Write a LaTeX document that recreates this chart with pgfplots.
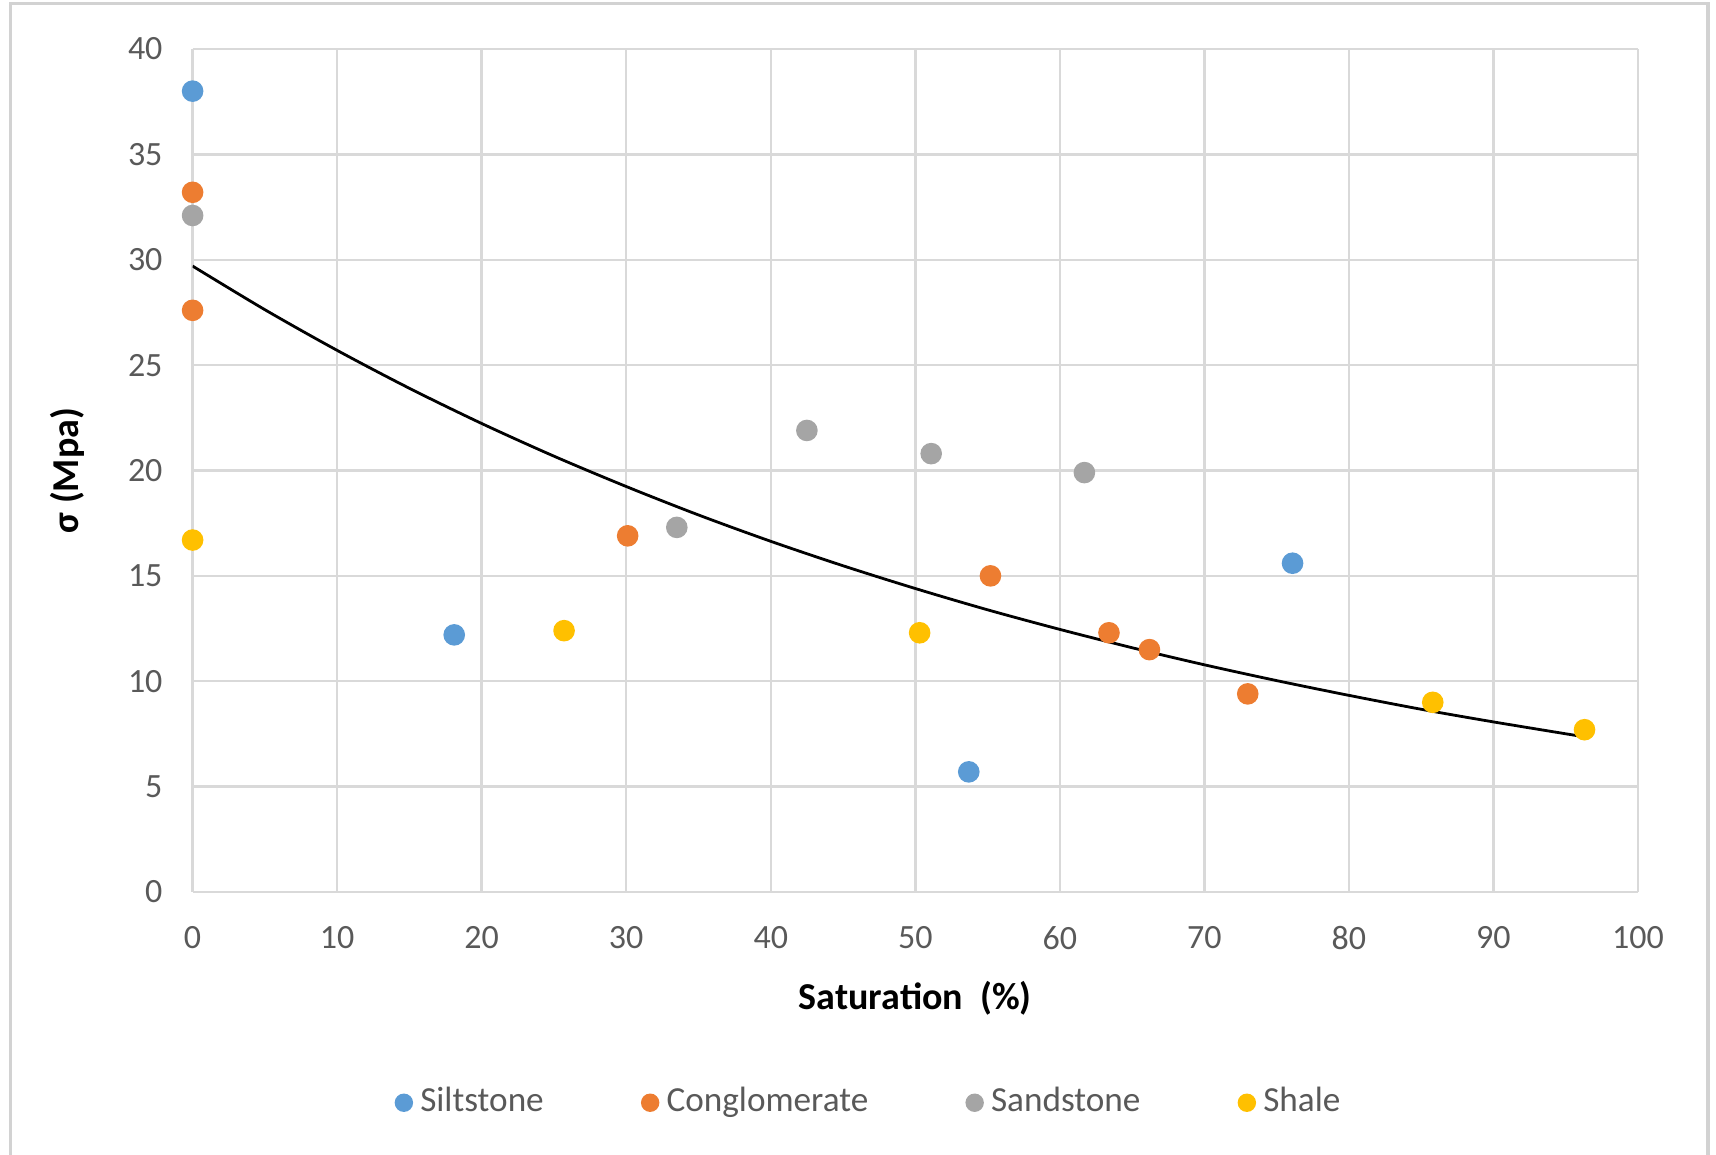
\documentclass[border=0pt]{standalone}
\usepackage{pgfplots}
\pgfplotsset{compat=1.18}
\usepackage{fontspec}
\setmainfont{Carlito}
\definecolor{cblue}{HTML}{5B9BD5}
\definecolor{corange}{HTML}{ED7D31}
\definecolor{cgray}{HTML}{A5A5A5}
\definecolor{cyellow}{HTML}{FFC000}
\definecolor{gridc}{HTML}{D9D9D9}
\definecolor{tickc}{HTML}{595959}
\begin{document}
\begin{tikzpicture}
\path[use as bounding box] (0,0) rectangle (429pt,288.75pt);
\draw[gray!35, line width=0.8pt] (2.6pt,-1pt) rectangle (427pt,287.8pt);
\begin{axis}[
  at={(48.15pt,65.75pt)}, anchor=south west,
  scale only axis, width=361.35pt, height=210.75pt,
  xmin=0, xmax=100, ymin=0, ymax=40,
  xtick={0,10,...,100}, ytick={0,5,...,40},
  grid=major, major grid style={gridc, line width=0.6pt},
  axis line style={gridc, line width=0.6pt},
  axis lines*=left,
  tick style={draw=none},
  ticklabel style={font=\fontsize{8.5}{10}\selectfont, text=tickc},
  /pgf/number format/assume math mode=true,
  xticklabel style={yshift=-5pt},
  yticklabel style={xshift=-4pt},
  xlabel={\textbf{Saturation\ \ (\%)}},
  ylabel={\textbf{σ (Mpa)}},
  label style={font=\fontsize{9.5}{11}\selectfont},
  xlabel style={yshift=-1pt},
  ylabel style={yshift=4pt},
  legend columns=4,
  legend style={at={(0.47,-0.25)}, anchor=center, draw=none, fill=none,
    font=\fontsize{8.8}{10}\selectfont, text=tickc,
    /tikz/every even column/.append style={column sep=22.5pt}},
  legend cell align=left,
  legend image code/.code={\draw[#1, mark size=2.1pt] plot coordinates {(0.12cm,0cm)};},
]
\addplot[only marks, mark=*, mark size=2.5pt, cblue, mark options={draw=cblue, fill=cblue}] coordinates {
(0,38.0) (18.1,12.2) (53.7,5.7) (76.1,15.6)};
\addlegendentry{Siltstone}
\addplot[only marks, mark=*, mark size=2.5pt, corange, mark options={draw=corange, fill=corange}] coordinates {
(0,33.2) (0,27.6) (30.1,16.9) (55.2,15.0) (63.4,12.3) (66.2,11.5) (73.0,9.4)};
\addlegendentry{Conglomerate}
\addplot[only marks, mark=*, mark size=2.5pt, cgray, mark options={draw=cgray, fill=cgray}] coordinates {
(0,32.1) (33.5,17.3) (42.5,21.9) (51.1,20.8) (61.7,19.9)};
\addlegendentry{Sandstone}
\addplot[only marks, mark=*, mark size=2.5pt, cyellow, mark options={draw=cyellow, fill=cyellow}] coordinates {
(0,16.7) (25.7,12.4) (50.3,12.3) (85.8,9.0) (96.3,7.7)};
\addlegendentry{Shale}
\addplot[black, line width=0.7pt, smooth, forget plot] coordinates {
(0,29.70) (5,27.63) (10,25.70) (15,23.90) (20,22.23) (25,20.68) (30,19.24)
(35,17.89) (40,16.64) (45,15.48) (50,14.40) (55,13.39) (60,12.46) (65,11.59)
(70,10.78) (75,10.03) (80,9.33) (85,8.67) (90,8.07) (96.4,7.35)};
\end{axis}
\end{tikzpicture}
\end{document}
